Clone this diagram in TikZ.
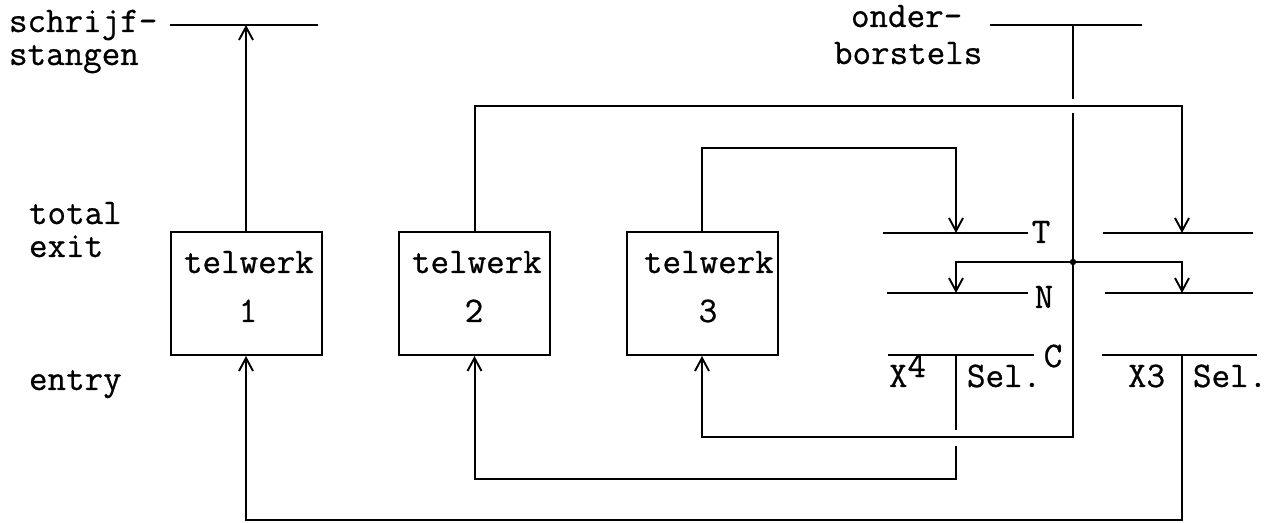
\documentclass[tikz,border=0pt]{standalone}
\usepackage{fontspec}
\newfontfamily\twfont{Latin Modern Mono}[FakeBold=0.7]
\usetikzlibrary{arrows.meta,calc}
\begin{document}
\begin{tikzpicture}[x=0.5pt,y=-0.5pt,
  line width=1pt,
  arr/.style={-{Straight Barb[length=6.5pt,width=7pt,line width=0.95pt]}},
  box/.style={draw,rectangle,minimum width=75.5pt,minimum height=61.5pt,inner sep=0pt},
  txt/.style={inner sep=0pt,font=\fontsize{18}{20}\selectfont\twfont}]
\useasboundingbox (0,0) rectangle (1285,523);

% counters
\node[box] (t1) at (246,293.5) {};
\node[box] (t2) at (474.5,293.5) {};
\node[box] (t3) at (702,293.5) {};
\node[txt,anchor=base west] (t1a) at (183,273) {telwerk};
\node[txt,anchor=base west] (t2a) at (411,273) {telwerk};
\node[txt,anchor=base west] (t3a) at (643,273) {telwerk};
\node[txt,anchor=base] (t1b) at (248,322) {1};
\node[txt,anchor=base] (t2b) at (474,322) {2};
\node[txt,anchor=base] (t3b) at (708,322) {3};

% side labels
\node[txt,anchor=base west] (l1) at (8,32) {schrijf-};
\node[txt,anchor=base west] (l2) at (8,65) {stangen};
\node[txt,anchor=base west] (l3) at (28,224) {total};
\node[txt,anchor=base west] (l4) at (28,257) {exit};
\node[txt,anchor=base west] (l5) at (28,390) {entry};
\node[txt,anchor=base west] (l6) at (850,27) {onder-};
\node[txt,anchor=base west] (l7) at (833,64) {borstels};
\node[txt,anchor=base] (lT) at (1041,243) {T};
\node[txt,anchor=base] (lN) at (1044,308) {N};
\node[txt,anchor=base] (lC) at (1053,367) {C};
\node[txt,anchor=base west] (lX4) at (888,387) {X\raisebox{5pt}{4}};
\node[txt,anchor=base west] (lS4) at (966,387) {Sel.};
\node[txt,anchor=base west] (lX3) at (1127,387) {X3};
\node[txt,anchor=base west] (lS3) at (1192,387) {Sel.};

% bars
\draw (170,25) -- (318,25);
\draw (990,25) -- (1142,25);
\draw (883,233) -- (1028,233);
\draw (1103,233) -- (1253,233);
\draw (887,293) -- (1028,293);
\draw (1105,293) -- (1253,293);
\draw (888,355) -- (1034,355);
\draw (1102,355) -- (1257,355);

% coordinates
\coordinate (s1) at (246,25);
\coordinate (ob) at (1073,25);
\coordinate (ob2) at (1073,113);
\coordinate (ret3) at (1073,437);
\coordinate (tL) at (956,233);
\coordinate (tR) at (1182,233);
\coordinate (nL) at (956,293);
\coordinate (nR) at (1182,293);
\coordinate (cL) at (956,355);
\coordinate (cR) at (1182,355);
\coordinate (sl2) at (956,446);
\coordinate (dot) at (1073,262);

% connectors
\draw[arr] (t1.north) -- (s1);
\draw[arr] (t2.north) -- ++(0,-125) -| (tR);
\draw[arr] (t3.north) -- ++(0,-83) -| (tL);
\draw (ob) -- ++(0,74);
\draw[arr] (ob2) -- (ret3) -| (t3.south);
\fill (dot) circle (1.6pt);
\draw[arr] (dot) -| (nL);
\draw[arr] (dot) -| (nR);
\draw (cL) -- ++(0,75);
\draw[arr] (sl2) -- ++(0,33) -| (t2.south);
\draw[arr] (cR) -- ++(0,165) -| (t1.south);
\end{tikzpicture}
\end{document}
